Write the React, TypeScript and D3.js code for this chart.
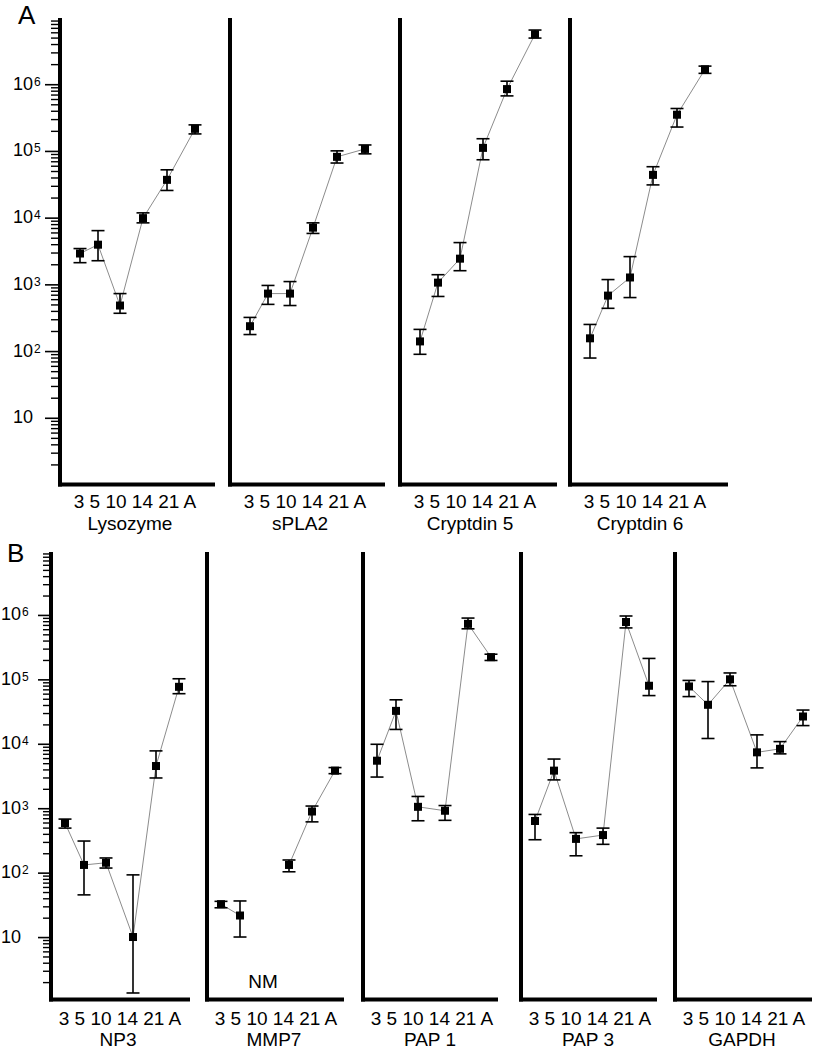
import React from "react";
import * as d3 from "d3";

// ---------- data ----------
const days = ["3", "5", "10", "14", "21", "A"];
const dayLabel = days.join(" ");

const lysozymeMean = [2950, 4000, 490, 10000, 37500, 218000];
const lysozymeLow = [2150, 2300, 375, 8500, 26000, 183000];
const lysozymeHigh = [3500, 6500, 740, 12000, 53000, 250000];

const spla2Mean = [240, 740, 740, 7200, 83000, 109000];
const spla2Low = [180, 510, 490, 5900, 67000, 92000];
const spla2High = [325, 980, 1120, 8500, 102000, 125000];

const crp5Mean = [142, 1080, 2470, 113000, 860000, 5700000];
const crp5Low = [91, 670, 1630, 75000, 680000, 5000000];
const crp5High = [215, 1420, 4300, 155000, 1130000, 6600000];

const crp6Mean = [158, 690, 1290, 44500, 355000, 1700000];
const crp6Low = [80, 445, 645, 31500, 232000, 1480000];
const crp6High = [255, 1200, 2650, 59000, 440000, 1900000];

const np3Mean = [600, 134, 145, 10.2, 4600, 78000];
const np3Low = [500, 46, 120, 1.38, 3000, 61000];
const np3High = [690, 315, 172, 94, 7900, 104000];

const mmp7Mean: (number | null)[] = [33, 22, null, 134, 905, 3900];
const mmp7Low: (number | null)[] = [29, 10.2, null, 105, 625, 3500];
const mmp7High: (number | null)[] = [36.5, 37, null, 160, 1100, 4350];

const pap1Mean = [5560, 33000, 1070, 930, 740000, 225000];
const pap1Low = [3100, 17000, 650, 660, 620000, 200000];
const pap1High = [10000, 49000, 1550, 1120, 910000, 250000];

const pap3Mean = [645, 3900, 340, 390, 790000, 81000];
const pap3Low = [330, 2800, 186, 280, 640000, 57000];
const pap3High = [815, 5900, 425, 500, 980000, 215000];

const gapdhMean = [79000, 41000, 102000, 7500, 8500, 27000];
const gapdhLow = [55000, 12300, 81000, 4300, 7100, 19500];
const gapdhHigh = [98000, 94000, 128000, 14000, 11000, 34000];

const majorExps = [1, 2, 3, 4, 5, 6];
const minorMults = [2, 3, 4, 5, 6, 7, 8, 9];
const decades = [0, 1, 2, 3, 4, 5, 6];

// ---------- layout ----------
const FONT = "'Liberation Sans', Arial, Helvetica, sans-serif";

type Gene = {
  name: string;
  mean: (number | null)[];
  low: (number | null)[];
  high: (number | null)[];
  note?: string;
};

const rowAGenes: Gene[] = [
  { name: "Lysozyme", mean: lysozymeMean, low: lysozymeLow, high: lysozymeHigh },
  { name: "sPLA2", mean: spla2Mean, low: spla2Low, high: spla2High },
  { name: "Cryptdin 5", mean: crp5Mean, low: crp5Low, high: crp5High },
  { name: "Cryptdin 6", mean: crp6Mean, low: crp6Low, high: crp6High },
];
const rowBGenes: Gene[] = [
  { name: "NP3", mean: np3Mean, low: np3Low, high: np3High },
  { name: "MMP7", mean: mmp7Mean, low: mmp7Low, high: mmp7High, note: "NM" },
  { name: "PAP 1", mean: pap1Mean, low: pap1Low, high: pap1High },
  { name: "PAP 3", mean: pap3Mean, low: pap3Low, high: pap3High },
  { name: "GAPDH", mean: gapdhMean, low: gapdhLow, high: gapdhHigh },
];

type Row = {
  genes: Gene[];
  axisX: number[];
  rightX: number[];
  top: number;
  bottom: number;
  yTop: number;
  yBottom: number;
  xOffsets: number[];
  labelOff: number;
  titleOff: number;
  labelY: number;
  titleY: number;
  tickMajor: number;
  tickMinor: number;
  tickLabelRight: number;
  letter: string;
  letterX: number;
  letterY: number;
};

const rows: Row[] = [
  {
    genes: rowAGenes,
    axisX: [60, 230, 400, 570],
    rightX: [215, 385, 557, 728],
    top: 18,
    bottom: 484.5,
    yTop: 18,
    yBottom: 485,
    xOffsets: [20, 38, 60, 83, 107, 135],
    labelOff: 75,
    titleOff: 70,
    labelY: 508,
    titleY: 530,
    tickMajor: 15,
    tickMinor: 9,
    tickLabelRight: 33,
    letter: "A",
    letterX: 18,
    letterY: 24,
  },
  {
    genes: rowBGenes,
    axisX: [51, 207, 363, 521, 675],
    rightX: [190, 344, 498, 657, 812],
    top: 552,
    bottom: 999.5,
    yTop: 551,
    yBottom: 1002,
    xOffsets: [14, 33, 55, 82, 105, 128],
    labelOff: 69,
    titleOff: 67,
    labelY: 1025,
    titleY: 1046,
    tickMajor: 13,
    tickMinor: 8,
    tickLabelRight: 21,
    letter: "B",
    letterX: 7,
    letterY: 562,
  },
];

function Panel({ row, gene, idx }: { row: Row; gene: Gene; idx: number }) {
  const ax = row.axisX[idx];
  const right = row.rightX[idx];
  const y = d3.scaleLog().domain([1, 1e7]).range([row.yBottom, row.yTop]);
  const x = d3
    .scaleOrdinal<string, number>()
    .domain(days)
    .range(row.xOffsets.map((o) => ax + o));

  const line = d3
    .line<number | null>()
    .defined((d) => d != null)
    .x((_, i) => x(days[i]))
    .y((d) => y(d as number));

  const first = idx === 0;
  const capW = 6.5;
  const sq = 8;

  return (
    <g>
      {/* axes */}
      <line x1={ax} x2={ax} y1={row.top} y2={row.bottom + 2} stroke="#000" strokeWidth={4} />
      <line x1={ax - 2} x2={right} y1={row.bottom} y2={row.bottom} stroke="#000" strokeWidth={4} />

      {first &&
        decades.map((k) =>
          minorMults.map((m) => {
            const yy = y(m * Math.pow(10, k));
            return (
              <line
                key={`mn-${k}-${m}`}
                x1={ax - row.tickMinor}
                x2={ax}
                y1={yy}
                y2={yy}
                stroke="#000"
                strokeWidth={1.4}
              />
            );
          })
        )}
      {first &&
        majorExps.map((e) => {
          const yy = y(Math.pow(10, e));
          return (
            <g key={`mj-${e}`}>
              <line x1={ax - row.tickMajor} x2={ax} y1={yy} y2={yy} stroke="#000" strokeWidth={1.6} />
              <text
                x={row.tickLabelRight}
                y={yy + 5}
                textAnchor="end"
                fontFamily={FONT}
                fontSize={18}
                fill="#000"
              >
                10
              </text>
              {e > 1 && (
                <text x={row.tickLabelRight + 1} y={yy + 1} fontFamily={FONT} fontSize={12} fill="#000">
                  {e}
                </text>
              )}
            </g>
          );
        })}

      {/* connecting line */}
      <path d={line(gene.mean) || ""} fill="none" stroke="#8c8c8c" strokeWidth={1} />

      {/* error bars */}
      {gene.mean.map((v, i) => {
        if (v == null) return null;
        const cx = x(days[i]);
        const lo = y(gene.low[i] as number);
        const hi = y(gene.high[i] as number);
        return (
          <g key={`eb-${i}`} stroke="#000" strokeWidth={1.6}>
            <line x1={cx} x2={cx} y1={hi} y2={lo} />
            <line x1={cx - capW} x2={cx + capW} y1={hi} y2={hi} />
            <line x1={cx - capW} x2={cx + capW} y1={lo} y2={lo} />
          </g>
        );
      })}
      {gene.mean.map((v, i) =>
        v == null ? null : (
          <rect
            key={`sq-${i}`}
            x={x(days[i]) - sq / 2}
            y={y(v) - sq / 2}
            width={sq}
            height={sq}
            fill="#000"
          />
        )
      )}

      {gene.note && (
        <text x={ax + 56} y={row.bottom - 12} textAnchor="middle" fontFamily={FONT} fontSize={19} fill="#000">
          {gene.note}
        </text>
      )}

      <text x={ax + row.labelOff} y={row.labelY} textAnchor="middle" fontFamily={FONT} fontSize={19} fill="#000">
        {dayLabel}
      </text>
      <text x={ax + row.titleOff} y={row.titleY} textAnchor="middle" fontFamily={FONT} fontSize={19} fill="#000">
        {gene.name}
      </text>
    </g>
  );
}

export default function App() {
  return (
    <svg
      width={813}
      height={1050}
      viewBox="0 0 813 1050"
      style={{ position: "absolute", left: 0, top: 0, background: "#fff" }}
    >
      <rect width={813} height={1050} fill="#fff" />
      {rows.map((row, r) => (
        <g key={`row-${r}`}>
          <text x={row.letterX} y={row.letterY} fontFamily={FONT} fontSize={26} fill="#000">
            {row.letter}
          </text>
          {row.genes.map((g, i) => (
            <Panel key={g.name} row={row} gene={g} idx={i} />
          ))}
        </g>
      ))}
    </svg>
  );
}
